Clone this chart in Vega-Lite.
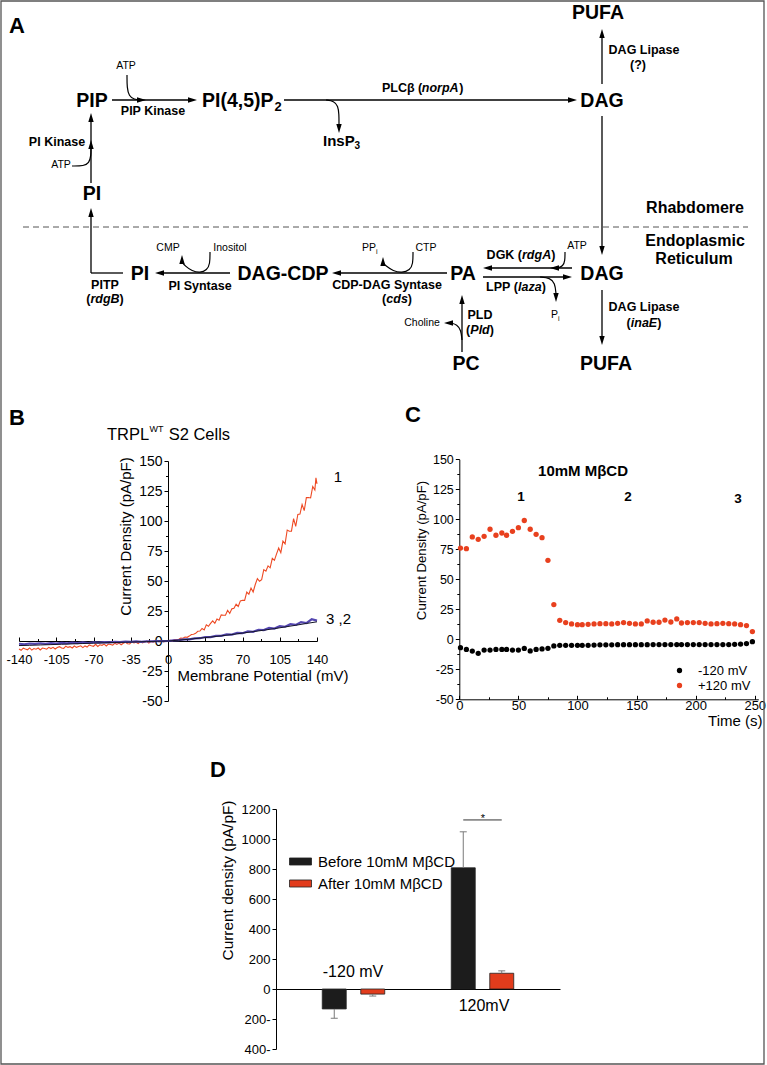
{
"$schema": "https://vega.github.io/schema/vega-lite/v6.json",
"width": 767, "height": 1065, "autosize": {"type": "none"}, "padding": 0,
"background": "white",
"config": {
 "view": {"stroke": null},
 "font": "Liberation Sans",
 "text": {"font": "Liberation Sans", "color": "black"},
 "axis": {"grid": false, "domainColor": "black", "tickColor": "black", "labelColor": "black", "titleColor": "black", "labelFont": "Liberation Sans", "titleFont": "Liberation Sans", "titleFontWeight": "normal", "labelFlush": false, "labelOverlap": false, "domainWidth": 1, "tickWidth": 1},
 "legend": {"labelFont": "Liberation Sans", "labelColor": "black", "padding": 0}
},
"datasets": {
 "frame": [{"x": 1, "y": 1, "x2": 764, "y2": 1064}],
 "ddash": [{"x": 23, "y": 227, "x2": 748, "y2": 227}],
 "dlines": [
  {"x": 112, "y": 100, "x2": 192, "y2": 100},
  {"x": 284, "y": 100, "x2": 572, "y2": 100},
  {"x": 602, "y": 84, "x2": 602, "y2": 34},
  {"x": 91, "y": 183, "x2": 91, "y2": 117},
  {"x": 91, "y": 273, "x2": 91, "y2": 212},
  {"x": 91, "y": 273, "x2": 123, "y2": 273},
  {"x": 230, "y": 273, "x2": 159, "y2": 273},
  {"x": 447, "y": 273, "x2": 336, "y2": 273},
  {"x": 572, "y": 268, "x2": 487, "y2": 268},
  {"x": 483, "y": 277, "x2": 567, "y2": 277},
  {"x": 602, "y": 116, "x2": 602, "y2": 250},
  {"x": 602, "y": 290, "x2": 602, "y2": 340},
  {"x": 462, "y": 352, "x2": 462, "y2": 299}
 ],
 "darrows": [
  {"x": 192.5, "y": 100, "dir": 90},
  {"x": 141.5, "y": 100, "dir": 90},
  {"x": 572.5, "y": 100, "dir": 90},
  {"x": 339, "y": 128.5, "dir": 180},
  {"x": 602, "y": 33.5, "dir": 0},
  {"x": 91, "y": 117.5, "dir": 0},
  {"x": 91, "y": 144.5, "dir": 0},
  {"x": 91, "y": 212.5, "dir": 0},
  {"x": 159.5, "y": 273, "dir": 270},
  {"x": 182, "y": 259.5, "dir": 0},
  {"x": 336.5, "y": 273, "dir": 270},
  {"x": 383, "y": 261.5, "dir": 0},
  {"x": 487.5, "y": 268, "dir": 270},
  {"x": 554.5, "y": 268, "dir": 270},
  {"x": 567.5, "y": 277, "dir": 90},
  {"x": 556, "y": 297.5, "dir": 180},
  {"x": 602, "y": 250.5, "dir": 180},
  {"x": 602, "y": 340.5, "dir": 180},
  {"x": 462, "y": 299.5, "dir": 0},
  {"x": 448.5, "y": 323, "dir": 270}
 ],
 "dcurves": [
  {"id": "c1", "o": 1, "x": 127, "y": 75}, {"id": "c1", "o": 2, "x": 127, "y": 88}, {"id": "c1", "o": 3, "x": 129, "y": 96}, {"id": "c1", "o": 4, "x": 134, "y": 99.5}, {"id": "c1", "o": 5, "x": 141, "y": 100},
  {"id": "c2", "o": 1, "x": 72, "y": 166}, {"id": "c2", "o": 2, "x": 84, "y": 166}, {"id": "c2", "o": 3, "x": 89, "y": 163}, {"id": "c2", "o": 4, "x": 91, "y": 156}, {"id": "c2", "o": 5, "x": 91, "y": 147},
  {"id": "c3", "o": 1, "x": 210, "y": 252}, {"id": "c3", "o": 2, "x": 210, "y": 264}, {"id": "c3", "o": 3, "x": 207, "y": 270}, {"id": "c3", "o": 4, "x": 200, "y": 273}, {"id": "c3", "o": 5, "x": 192, "y": 271}, {"id": "c3", "o": 6, "x": 185, "y": 266}, {"id": "c3", "o": 7, "x": 182, "y": 262},
  {"id": "c4", "o": 1, "x": 413, "y": 252}, {"id": "c4", "o": 2, "x": 413, "y": 264}, {"id": "c4", "o": 3, "x": 410, "y": 270}, {"id": "c4", "o": 4, "x": 402, "y": 273}, {"id": "c4", "o": 5, "x": 393, "y": 271}, {"id": "c4", "o": 6, "x": 386, "y": 266}, {"id": "c4", "o": 7, "x": 383, "y": 263},
  {"id": "c5", "o": 1, "x": 565, "y": 252}, {"id": "c5", "o": 2, "x": 565, "y": 261}, {"id": "c5", "o": 3, "x": 563, "y": 266}, {"id": "c5", "o": 4, "x": 558, "y": 268},
  {"id": "c6", "o": 1, "x": 540, "y": 277}, {"id": "c6", "o": 2, "x": 550, "y": 278}, {"id": "c6", "o": 3, "x": 555, "y": 283}, {"id": "c6", "o": 4, "x": 556, "y": 294},
  {"id": "c7", "o": 1, "x": 462, "y": 340}, {"id": "c7", "o": 2, "x": 461, "y": 330}, {"id": "c7", "o": 3, "x": 457, "y": 324.5}, {"id": "c7", "o": 4, "x": 451, "y": 323},
  {"id": "c8", "o": 1, "x": 326, "y": 100}, {"id": "c8", "o": 2, "x": 334, "y": 101}, {"id": "c8", "o": 3, "x": 338, "y": 106}, {"id": "c8", "o": 4, "x": 339, "y": 114}, {"id": "c8", "o": 5, "x": 339, "y": 125}
 ],
 "dtext": [
  {"x": 17, "y": 26, "t": "A", "k": "panel"},
  {"x": 17, "y": 418, "t": "B", "k": "panel"},
  {"x": 413, "y": 415, "t": "C", "k": "panel"},
  {"x": 218, "y": 770, "t": "D", "k": "panel"},
  {"x": 92, "y": 101, "t": "PIP", "k": "node"},
  {"x": 602, "y": 101, "t": "DAG", "k": "node"},
  {"x": 598, "y": 13, "t": "PUFA", "k": "node"},
  {"x": 92, "y": 194, "t": "PI", "k": "node"},
  {"x": 140, "y": 274, "t": "PI", "k": "node"},
  {"x": 283, "y": 274, "t": "DAG-CDP", "k": "node"},
  {"x": 463, "y": 274, "t": "PA", "k": "node"},
  {"x": 602, "y": 274, "t": "DAG", "k": "node"},
  {"x": 466, "y": 364, "t": "PC", "k": "node"},
  {"x": 606, "y": 364, "t": "PUFA", "k": "node"},
  {"x": 202, "y": 101, "t": "PI(4,5)P", "k": "nodeL"},
  {"x": 274.5, "y": 107, "t": "2", "k": "nsub"},
  {"x": 323, "y": 141, "t": "InsP", "k": "insp"},
  {"x": 354.5, "y": 146, "t": "3", "k": "isub"},
  {"x": 153, "y": 111, "t": "PIP Kinase", "k": "enz"},
  {"x": 57, "y": 142, "t": "PI Kinase", "k": "enz"},
  {"x": 105, "y": 284.5, "t": "PITP", "k": "enz"},
  {"x": 200, "y": 286, "t": "PI Syntase", "k": "enz"},
  {"x": 387, "y": 285, "t": "CDP-DAG Syntase", "k": "enz"},
  {"x": 644, "y": 49.5, "t": "DAG Lipase", "k": "enz"},
  {"x": 638, "y": 64.5, "t": "(?)", "k": "enz"},
  {"x": 644, "y": 306.5, "t": "DAG Lipase", "k": "enz"},
  {"x": 480, "y": 314.5, "t": "PLD", "k": "enz"},
  {"x": 382, "y": 88, "t": "PLCβ (", "k": "enzL"},
  {"x": 459.3, "y": 88, "t": ")", "k": "enzL"},
  {"x": 421.8, "y": 88, "t": "norpA", "k": "enziL"},
  {"x": 86.2, "y": 299, "t": "(", "k": "enzL"},
  {"x": 90.4, "y": 299, "t": "rdgB", "k": "enziL"},
  {"x": 119.6, "y": 299, "t": ")", "k": "enzL"},
  {"x": 382.1, "y": 299, "t": "(", "k": "enzL"},
  {"x": 386.3, "y": 299, "t": "cds", "k": "enziL"},
  {"x": 407.8, "y": 299, "t": ")", "k": "enzL"},
  {"x": 486.6, "y": 255, "t": "DGK (", "k": "enzL"},
  {"x": 522.0, "y": 255, "t": "rdgA", "k": "enziL"},
  {"x": 551.2, "y": 255, "t": ")", "k": "enzL"},
  {"x": 486.1, "y": 287, "t": "LPP (", "k": "enzL"},
  {"x": 518.1, "y": 287, "t": "laza", "k": "enziL"},
  {"x": 541.7, "y": 287, "t": ")", "k": "enzL"},
  {"x": 626.6, "y": 322.5, "t": "(", "k": "enzL"},
  {"x": 630.8, "y": 322.5, "t": "inaE", "k": "enziL"},
  {"x": 657.2, "y": 322.5, "t": ")", "k": "enzL"},
  {"x": 466.1, "y": 329.5, "t": "(", "k": "enzL"},
  {"x": 470.3, "y": 329.5, "t": "Pld", "k": "enziL"},
  {"x": 489.7, "y": 329.5, "t": ")", "k": "enzL"},
  {"x": 695, "y": 208, "t": "Rhabdomere", "k": "region"},
  {"x": 695, "y": 241, "t": "Endoplasmic", "k": "region"},
  {"x": 694, "y": 259, "t": "Reticulum", "k": "region"},
  {"x": 126, "y": 66, "t": "ATP", "k": "small"},
  {"x": 61, "y": 165, "t": "ATP", "k": "small"},
  {"x": 168, "y": 248, "t": "CMP", "k": "small"},
  {"x": 230, "y": 248, "t": "Inositol", "k": "small"},
  {"x": 426, "y": 248, "t": "CTP", "k": "small"},
  {"x": 577, "y": 246, "t": "ATP", "k": "small"},
  {"x": 422, "y": 323, "t": "Choline", "k": "small"},
  {"x": 362, "y": 248, "t": "PP", "k": "smallL"},
  {"x": 551, "y": 315, "t": "P", "k": "smallL"},
  {"x": 376, "y": 251.5, "t": "i", "k": "ssub"},
  {"x": 558, "y": 318.5, "t": "i", "k": "ssub"},
  {"x": 353, "y": 972, "t": "-120 mV", "k": "dlab"},
  {"x": 484, "y": 1006, "t": "120mV", "k": "dlab"},
  {"x": 483, "y": 819, "t": "*", "k": "star"}
 ],
 "iv": [
  {"mV": -140, "pA": -6.7, "trace": "1"}, {"mV": -138, "pA": -7.75, "trace": "1"}, {"mV": -136, "pA": -6.0, "trace": "1"}, {"mV": -134, "pA": -6.75, "trace": "1"}, {"mV": -132, "pA": -7.3, "trace": "1"}, {"mV": -130, "pA": -5.75, "trace": "1"}, {"mV": -128, "pA": -7.6, "trace": "1"}, {"mV": -126, "pA": -6.25, "trace": "1"}, {"mV": -124, "pA": -6.8, "trace": "1"}, {"mV": -122, "pA": -5.85, "trace": "1"},
  {"mV": -120, "pA": -7.5, "trace": "1"}, {"mV": -118, "pA": -5.9, "trace": "1"}, {"mV": -116, "pA": -6.3, "trace": "1"}, {"mV": -114, "pA": -6.8, "trace": "1"}, {"mV": -112, "pA": -5.3, "trace": "1"}, {"mV": -110, "pA": -6.3, "trace": "1"}, {"mV": -108, "pA": -5.3, "trace": "1"}, {"mV": -106, "pA": -6.7, "trace": "1"}, {"mV": -104, "pA": -5.5, "trace": "1"}, {"mV": -102, "pA": -4.7, "trace": "1"},
  {"mV": -100, "pA": -5.9, "trace": "1"}, {"mV": -98, "pA": -6.1, "trace": "1"}, {"mV": -96, "pA": -4.3, "trace": "1"}, {"mV": -94, "pA": -5.3, "trace": "1"}, {"mV": -92, "pA": -4.7, "trace": "1"}, {"mV": -90, "pA": -5.8, "trace": "1"}, {"mV": -88, "pA": -4.2, "trace": "1"}, {"mV": -86, "pA": -5.3, "trace": "1"}, {"mV": -84, "pA": -4.6, "trace": "1"}, {"mV": -82, "pA": -4.0, "trace": "1"},
  {"mV": -80, "pA": -5.5, "trace": "1"}, {"mV": -78, "pA": -4.08, "trace": "1"}, {"mV": -76, "pA": -5.06, "trace": "1"}, {"mV": -74, "pA": -3.24, "trace": "1"}, {"mV": -72, "pA": -3.92, "trace": "1"}, {"mV": -70, "pA": -4.4, "trace": "1"}, {"mV": -68, "pA": -2.78, "trace": "1"}, {"mV": -66, "pA": -4.56, "trace": "1"}, {"mV": -64, "pA": -3.14, "trace": "1"}, {"mV": -62, "pA": -3.62, "trace": "1"},
  {"mV": -60, "pA": -2.6, "trace": "1"}, {"mV": -58, "pA": -4.17, "trace": "1"}, {"mV": -56, "pA": -2.54, "trace": "1"}, {"mV": -54, "pA": -2.91, "trace": "1"}, {"mV": -52, "pA": -3.38, "trace": "1"}, {"mV": -50, "pA": -1.85, "trace": "1"}, {"mV": -48, "pA": -2.82, "trace": "1"}, {"mV": -46, "pA": -1.79, "trace": "1"}, {"mV": -44, "pA": -3.16, "trace": "1"}, {"mV": -42, "pA": -1.93, "trace": "1"},
  {"mV": -40, "pA": -1.1, "trace": "1"}, {"mV": -38, "pA": -2.28, "trace": "1"}, {"mV": -36, "pA": -2.46, "trace": "1"}, {"mV": -34, "pA": -0.64, "trace": "1"}, {"mV": -32, "pA": -1.62, "trace": "1"}, {"mV": -30, "pA": -1.0, "trace": "1"}, {"mV": -28, "pA": -2.08, "trace": "1"}, {"mV": -26, "pA": -0.46, "trace": "1"}, {"mV": -24, "pA": -1.54, "trace": "1"}, {"mV": -22, "pA": -0.82, "trace": "1"},
  {"mV": -20, "pA": -0.2, "trace": "1"}, {"mV": -18, "pA": -1.72, "trace": "1"}, {"mV": -16, "pA": -0.46, "trace": "1"}, {"mV": -14, "pA": -1.04, "trace": "1"}, {"mV": -12, "pA": 0.06, "trace": "1"}, {"mV": -10, "pA": -0.34, "trace": "1"}, {"mV": -8, "pA": -0.62, "trace": "1"}, {"mV": -6, "pA": 0.36, "trace": "1"}, {"mV": -4, "pA": -0.7, "trace": "1"}, {"mV": -2, "pA": 0.16, "trace": "1"},
  {"mV": 0, "pA": -0.1, "trace": "1"}, {"mV": 2, "pA": 0.65, "trace": "1"}, {"mV": 4, "pA": 0.1, "trace": "1"}, {"mV": 6, "pA": 1.15, "trace": "1"}, {"mV": 8, "pA": 1.2, "trace": "1"}, {"mV": 10, "pA": 1.2, "trace": "1"}, {"mV": 12, "pA": 2.4, "trace": "1"}, {"mV": 14, "pA": 2.35, "trace": "1"}, {"mV": 16, "pA": 3.3, "trace": "1"}, {"mV": 18, "pA": 3.05, "trace": "1"},
  {"mV": 20, "pA": 4.1, "trace": "1"}, {"mV": 22, "pA": 5.35, "trace": "1"}, {"mV": 24, "pA": 5.6, "trace": "1"}, {"mV": 26, "pA": 6.35, "trace": "1"}, {"mV": 28, "pA": 8.1, "trace": "1"}, {"mV": 30, "pA": 8.3, "trace": "1"}, {"mV": 32, "pA": 10.5, "trace": "1"}, {"mV": 34, "pA": 9.3, "trace": "1"}, {"mV": 36, "pA": 13.5, "trace": "1"}, {"mV": 38, "pA": 12.3, "trace": "1"},
  {"mV": 40, "pA": 14.7, "trace": "1"}, {"mV": 42, "pA": 16.8, "trace": "1"}, {"mV": 44, "pA": 14.7, "trace": "1"}, {"mV": 46, "pA": 18.4, "trace": "1"}, {"mV": 48, "pA": 17.3, "trace": "1"}, {"mV": 50, "pA": 21.8, "trace": "1"}, {"mV": 52, "pA": 21.4, "trace": "1"}, {"mV": 54, "pA": 21.4, "trace": "1"}, {"mV": 56, "pA": 25.6, "trace": "1"}, {"mV": 58, "pA": 23.0, "trace": "1"},
  {"mV": 60, "pA": 26.8, "trace": "1"}, {"mV": 62, "pA": 27.2, "trace": "1"}, {"mV": 64, "pA": 30.6, "trace": "1"}, {"mV": 66, "pA": 28.8, "trace": "1"}, {"mV": 68, "pA": 33.4, "trace": "1"}, {"mV": 70, "pA": 34.0, "trace": "1"}, {"mV": 72, "pA": 33.9, "trace": "1"}, {"mV": 74, "pA": 40.8, "trace": "1"}, {"mV": 76, "pA": 39.0, "trace": "1"}, {"mV": 78, "pA": 44.1, "trace": "1"},
  {"mV": 80, "pA": 40.85, "trace": "1"}, {"mV": 82, "pA": 47.1, "trace": "1"}, {"mV": 84, "pA": 51.95, "trace": "1"}, {"mV": 86, "pA": 49.8, "trace": "1"}, {"mV": 88, "pA": 51.15, "trace": "1"}, {"mV": 90, "pA": 59.5, "trace": "1"}, {"mV": 92, "pA": 58.25, "trace": "1"}, {"mV": 94, "pA": 62.6, "trace": "1"}, {"mV": 96, "pA": 61.0, "trace": "1"}, {"mV": 98, "pA": 68.85, "trace": "1"},
  {"mV": 100, "pA": 67.25, "trace": "1"}, {"mV": 102, "pA": 72.55, "trace": "1"}, {"mV": 104, "pA": 77.5, "trace": "1"}, {"mV": 106, "pA": 73.6, "trace": "1"}, {"mV": 108, "pA": 83.3, "trace": "1"}, {"mV": 110, "pA": 81.0, "trace": "1"}, {"mV": 112, "pA": 92.5, "trace": "1"}, {"mV": 114, "pA": 91.5, "trace": "1"}, {"mV": 116, "pA": 91.5, "trace": "1"}, {"mV": 118, "pA": 102.0, "trace": "1"},
  {"mV": 120, "pA": 95.5, "trace": "1"}, {"mV": 122, "pA": 105.4, "trace": "1"}, {"mV": 124, "pA": 105.8, "trace": "1"}, {"mV": 126, "pA": 113.7, "trace": "1"}, {"mV": 128, "pA": 108.6, "trace": "1"}, {"mV": 130, "pA": 119.5, "trace": "1"}, {"mV": 132, "pA": 119.6, "trace": "1"}, {"mV": 134, "pA": 119.2, "trace": "1"}, {"mV": 136, "pA": 128.8, "trace": "1"}, {"mV": 138, "pA": 125.9, "trace": "1"}, {"mV": 139, "pA": 136, "trace": "1"}, {"mV": 140, "pA": 131, "trace": "1"},
  {"mV": -140, "pA": -2.3, "trace": "2"}, {"mV": -135, "pA": -2.7, "trace": "2"}, {"mV": -130, "pA": -2.1, "trace": "2"}, {"mV": -125, "pA": -2.45, "trace": "2"}, {"mV": -120, "pA": -1.9, "trace": "2"}, {"mV": -115, "pA": -2.4, "trace": "2"}, {"mV": -110, "pA": -1.8, "trace": "2"}, {"mV": -105, "pA": -2.1, "trace": "2"}, {"mV": -100, "pA": -1.5, "trace": "2"}, {"mV": -95, "pA": -2.0, "trace": "2"},
  {"mV": -90, "pA": -1.4, "trace": "2"}, {"mV": -85, "pA": -1.7, "trace": "2"}, {"mV": -80, "pA": -1.2, "trace": "2"}, {"mV": -75, "pA": -1.65, "trace": "2"}, {"mV": -70, "pA": -1.05, "trace": "2"}, {"mV": -65, "pA": -1.4, "trace": "2"}, {"mV": -60, "pA": -0.9, "trace": "2"}, {"mV": -55, "pA": -1.2, "trace": "2"}, {"mV": -50, "pA": -0.7, "trace": "2"}, {"mV": -45, "pA": -1.0, "trace": "2"},
  {"mV": -40, "pA": -0.5, "trace": "2"}, {"mV": -35, "pA": -0.8, "trace": "2"}, {"mV": -30, "pA": -0.35, "trace": "2"}, {"mV": -25, "pA": -0.65, "trace": "2"}, {"mV": -20, "pA": -0.25, "trace": "2"}, {"mV": -15, "pA": -0.37, "trace": "2"}, {"mV": -10, "pA": -0.08, "trace": "2"}, {"mV": -5, "pA": -0.09, "trace": "2"}, {"mV": 0, "pA": 0, "trace": "2"}, {"mV": 5, "pA": 0.47, "trace": "2"},
  {"mV": 10, "pA": 0.66, "trace": "2"}, {"mV": 15, "pA": 1.37, "trace": "2"}, {"mV": 20, "pA": 1.4, "trace": "2"}, {"mV": 25, "pA": 2.25, "trace": "2"}, {"mV": 30, "pA": 2.32, "trace": "2"}, {"mV": 35, "pA": 3.3, "trace": "2"}, {"mV": 40, "pA": 3.2, "trace": "2"}, {"mV": 45, "pA": 4.32, "trace": "2"}, {"mV": 50, "pA": 4.27, "trace": "2"}, {"mV": 55, "pA": 5.53, "trace": "2"},
  {"mV": 60, "pA": 5.3, "trace": "2"}, {"mV": 65, "pA": 6.7, "trace": "2"}, {"mV": 70, "pA": 6.5, "trace": "2"}, {"mV": 75, "pA": 8.05, "trace": "2"}, {"mV": 80, "pA": 7.7, "trace": "2"}, {"mV": 85, "pA": 9.37, "trace": "2"}, {"mV": 90, "pA": 9.06, "trace": "2"}, {"mV": 95, "pA": 10.87, "trace": "2"}, {"mV": 100, "pA": 10.4, "trace": "2"}, {"mV": 105, "pA": 12.35, "trace": "2"},
  {"mV": 110, "pA": 11.9, "trace": "2"}, {"mV": 115, "pA": 14.0, "trace": "2"}, {"mV": 120, "pA": 13.4, "trace": "2"}, {"mV": 125, "pA": 15.72, "trace": "2"}, {"mV": 130, "pA": 14.96, "trace": "2"}, {"mV": 135, "pA": 18.1, "trace": "2"}, {"mV": 140, "pA": 17.0, "trace": "2"},
  {"mV": -140, "pA": -3.8, "trace": "3"}, {"mV": -130, "pA": -3.6, "trace": "3"}, {"mV": -120, "pA": -3.3, "trace": "3"}, {"mV": -110, "pA": -3.0, "trace": "3"}, {"mV": -100, "pA": -2.7, "trace": "3"}, {"mV": -90, "pA": -2.4, "trace": "3"}, {"mV": -80, "pA": -2.1, "trace": "3"}, {"mV": -70, "pA": -1.8, "trace": "3"}, {"mV": -60, "pA": -1.5, "trace": "3"}, {"mV": -50, "pA": -1.25, "trace": "3"},
  {"mV": -40, "pA": -1.0, "trace": "3"}, {"mV": -30, "pA": -0.75, "trace": "3"}, {"mV": -20, "pA": -0.5, "trace": "3"}, {"mV": -10, "pA": -0.25, "trace": "3"}, {"mV": 0, "pA": 0, "trace": "3"}, {"mV": 10, "pA": 0.7, "trace": "3"}, {"mV": 20, "pA": 1.5, "trace": "3"}, {"mV": 30, "pA": 2.4, "trace": "3"}, {"mV": 40, "pA": 3.3, "trace": "3"}, {"mV": 50, "pA": 4.3, "trace": "3"},
  {"mV": 60, "pA": 5.4, "trace": "3"}, {"mV": 70, "pA": 6.6, "trace": "3"}, {"mV": 80, "pA": 7.8, "trace": "3"}, {"mV": 90, "pA": 9.0, "trace": "3"}, {"mV": 100, "pA": 10.3, "trace": "3"}, {"mV": 110, "pA": 11.7, "trace": "3"}, {"mV": 120, "pA": 13.1, "trace": "3"}, {"mV": 130, "pA": 14.6, "trace": "3"}, {"mV": 140, "pA": 16.0, "trace": "3"}
 ],
 "btext": [
  {"mV": -57.3, "pA": 171.7, "t": "TRPL", "k": "title"},
  {"mV": -17.4, "pA": 176.7, "t": "WT", "k": "sup"},
  {"mV": 0.6, "pA": 171.7, "t": "S2 Cells", "k": "title"},
  {"mV": 159.7, "pA": 136.7, "t": "1", "k": "lab"},
  {"mV": 148.5, "pA": 18.3, "t": "3 ,2", "k": "labL"}
 ],
 "phases": [
  {"t0": 0, "t1": 60, "phase": "bath"},
  {"t0": 60, "t1": 150, "phase": "MbCD"},
  {"t0": 150, "t1": 253, "phase": "bath"}
 ],
 "bounds": [{"t": 60}, {"t": 150}],
 "ctime": [
  {"t": 1, "v": 76, "s": "+120 mV"}, {"t": 6, "v": 75.5, "s": "+120 mV"}, {"t": 11, "v": 85.3, "s": "+120 mV"}, {"t": 16, "v": 83.3, "s": "+120 mV"}, {"t": 21, "v": 85.8, "s": "+120 mV"}, {"t": 26, "v": 91.7, "s": "+120 mV"}, {"t": 31, "v": 86.7, "s": "+120 mV"}, {"t": 36, "v": 88.6, "s": "+120 mV"}, {"t": 40, "v": 86.7, "s": "+120 mV"}, {"t": 45, "v": 90, "s": "+120 mV"},
  {"t": 50, "v": 93, "s": "+120 mV"}, {"t": 55, "v": 99, "s": "+120 mV"}, {"t": 60, "v": 91.7, "s": "+120 mV"}, {"t": 65, "v": 87.5, "s": "+120 mV"}, {"t": 70, "v": 84.7, "s": "+120 mV"}, {"t": 75, "v": 65.8, "s": "+120 mV"}, {"t": 80, "v": 28.9, "s": "+120 mV"}, {"t": 85, "v": 15.8, "s": "+120 mV"}, {"t": 90, "v": 13.9, "s": "+120 mV"}, {"t": 95, "v": 12.8, "s": "+120 mV"},
  {"t": 100, "v": 12.2, "s": "+120 mV"}, {"t": 104, "v": 12.2, "s": "+120 mV"}, {"t": 109, "v": 12.5, "s": "+120 mV"}, {"t": 114, "v": 12.8, "s": "+120 mV"}, {"t": 119, "v": 13, "s": "+120 mV"}, {"t": 124, "v": 13, "s": "+120 mV"}, {"t": 129, "v": 12.8, "s": "+120 mV"}, {"t": 134, "v": 13.3, "s": "+120 mV"}, {"t": 139, "v": 13.9, "s": "+120 mV"}, {"t": 144, "v": 13.3, "s": "+120 mV"},
  {"t": 149, "v": 12.8, "s": "+120 mV"}, {"t": 154, "v": 12.8, "s": "+120 mV"}, {"t": 159, "v": 15.3, "s": "+120 mV"}, {"t": 164, "v": 14.2, "s": "+120 mV"}, {"t": 169, "v": 14.2, "s": "+120 mV"}, {"t": 174, "v": 16, "s": "+120 mV"}, {"t": 179, "v": 14.4, "s": "+120 mV"}, {"t": 184, "v": 17, "s": "+120 mV"}, {"t": 188, "v": 13.6, "s": "+120 mV"}, {"t": 193, "v": 13.9, "s": "+120 mV"},
  {"t": 198, "v": 13.9, "s": "+120 mV"}, {"t": 203, "v": 13.9, "s": "+120 mV"}, {"t": 208, "v": 13.3, "s": "+120 mV"}, {"t": 213, "v": 12.8, "s": "+120 mV"}, {"t": 218, "v": 13, "s": "+120 mV"}, {"t": 223, "v": 13.3, "s": "+120 mV"}, {"t": 228, "v": 13, "s": "+120 mV"}, {"t": 233, "v": 12.8, "s": "+120 mV"}, {"t": 238, "v": 12.2, "s": "+120 mV"}, {"t": 243, "v": 11.4, "s": "+120 mV"}, {"t": 248, "v": 6.4, "s": "+120 mV"},
  {"t": 1, "v": -7, "s": "-120 mV"}, {"t": 6, "v": -8.4, "s": "-120 mV"}, {"t": 11, "v": -9.8, "s": "-120 mV"}, {"t": 16, "v": -11.7, "s": "-120 mV"}, {"t": 21, "v": -9, "s": "-120 mV"}, {"t": 26, "v": -9, "s": "-120 mV"}, {"t": 31, "v": -8.4, "s": "-120 mV"}, {"t": 36, "v": -8.4, "s": "-120 mV"}, {"t": 40, "v": -8.4, "s": "-120 mV"}, {"t": 45, "v": -9, "s": "-120 mV"},
  {"t": 50, "v": -9, "s": "-120 mV"}, {"t": 55, "v": -7.6, "s": "-120 mV"}, {"t": 60, "v": -9.7, "s": "-120 mV"}, {"t": 65, "v": -8.4, "s": "-120 mV"}, {"t": 70, "v": -8, "s": "-120 mV"}, {"t": 75, "v": -7.5, "s": "-120 mV"}, {"t": 80, "v": -5.5, "s": "-120 mV"}, {"t": 85, "v": -5, "s": "-120 mV"}, {"t": 90, "v": -5, "s": "-120 mV"}, {"t": 95, "v": -5, "s": "-120 mV"},
  {"t": 100, "v": -5, "s": "-120 mV"}, {"t": 104, "v": -5, "s": "-120 mV"}, {"t": 109, "v": -5, "s": "-120 mV"}, {"t": 114, "v": -4.8, "s": "-120 mV"}, {"t": 119, "v": -4.6, "s": "-120 mV"}, {"t": 124, "v": -4.6, "s": "-120 mV"}, {"t": 129, "v": -4.6, "s": "-120 mV"}, {"t": 134, "v": -4.5, "s": "-120 mV"}, {"t": 139, "v": -4.5, "s": "-120 mV"}, {"t": 144, "v": -4.5, "s": "-120 mV"},
  {"t": 149, "v": -4.5, "s": "-120 mV"}, {"t": 154, "v": -4.5, "s": "-120 mV"}, {"t": 159, "v": -4.5, "s": "-120 mV"}, {"t": 164, "v": -4.4, "s": "-120 mV"}, {"t": 169, "v": -4.4, "s": "-120 mV"}, {"t": 174, "v": -4.4, "s": "-120 mV"}, {"t": 179, "v": -4.4, "s": "-120 mV"}, {"t": 184, "v": -4.4, "s": "-120 mV"}, {"t": 188, "v": -4.4, "s": "-120 mV"}, {"t": 193, "v": -4.4, "s": "-120 mV"},
  {"t": 198, "v": -4.4, "s": "-120 mV"}, {"t": 203, "v": -4.4, "s": "-120 mV"}, {"t": 208, "v": -4.4, "s": "-120 mV"}, {"t": 213, "v": -4.4, "s": "-120 mV"}, {"t": 218, "v": -4.4, "s": "-120 mV"}, {"t": 223, "v": -4.4, "s": "-120 mV"}, {"t": 228, "v": -4.4, "s": "-120 mV"}, {"t": 233, "v": -4.2, "s": "-120 mV"}, {"t": 238, "v": -4, "s": "-120 mV"}, {"t": 243, "v": -3.6, "s": "-120 mV"}, {"t": 248, "v": -2, "s": "-120 mV"}
 ],
 "ctext": [
  {"t": 104.7, "v": 140.3, "txt": "10mM MβCD", "k": "head"},
  {"t": 52.2, "v": 118.6, "txt": "1", "k": "num"},
  {"t": 142.7, "v": 118.6, "txt": "2", "k": "num"},
  {"t": 235.9, "v": 116.9, "txt": "3", "k": "num"}
 ],
 "dbars": [
  {"voltage": "-120 mV", "cond": "Before 10mM MβCD", "value": -133, "err": -195},
  {"voltage": "-120 mV", "cond": "After 10mM MβCD", "value": -34, "err": -47},
  {"voltage": "120mV", "cond": "Before 10mM MβCD", "value": 808, "err": 1048},
  {"voltage": "120mV", "cond": "After 10mM MβCD", "value": 105, "err": 121}
 ],
 "dsig": [
  {"voltage": "120mV", "cond": "Before 10mM MβCD", "v": 1127},
  {"voltage": "120mV", "cond": "After 10mM MβCD", "v": 1127}
 ]
},
"layer": [
 {
  "encoding": {
   "x": {"field": "x", "type": "quantitative", "scale": {"domain": [0, 767], "range": [0, 767], "nice": false, "zero": false}, "axis": null},
   "y": {"field": "y", "type": "quantitative", "scale": {"domain": [0, 1065], "range": [0, 1065], "nice": false, "zero": false}, "axis": null}
  },
  "layer": [
   {"data": {"name": "frame"}, "mark": {"type": "rect", "fillOpacity": 0, "stroke": "#555555", "strokeWidth": 1.3}, "encoding": {"x2": {"field": "x2"}, "y2": {"field": "y2"}}},
   {"data": {"name": "ddash"}, "mark": {"type": "rule", "color": "#555555", "strokeWidth": 1, "strokeDash": [6, 4]}, "encoding": {"x2": {"field": "x2"}, "y2": {"field": "y2"}}},
   {"data": {"name": "dlines"}, "mark": {"type": "rule", "color": "black", "strokeWidth": 1.3}, "encoding": {"x2": {"field": "x2"}, "y2": {"field": "y2"}}},
   {"data": {"name": "dcurves"}, "mark": {"type": "line", "color": "black", "strokeWidth": 1.2, "interpolate": "basis"}, "encoding": {"detail": {"field": "id", "type": "nominal"}, "order": {"field": "o", "type": "quantitative"}}},
   {"data": {"name": "darrows"}, "mark": {"type": "point", "shape": "M0,-1L0.6,1L-0.6,1Z", "filled": true, "size": 81, "color": "black", "opacity": 1}, "encoding": {"angle": {"field": "dir", "type": "quantitative", "scale": null}}},
   {"data": {"name": "dtext"}, "transform": [{"filter": "datum.k === 'panel'"}], "mark": {"type": "text", "fontSize": 22, "fontWeight": "bold"}, "encoding": {"text": {"field": "t"}}},
   {"data": {"name": "dtext"}, "transform": [{"filter": "datum.k === 'node'"}], "mark": {"type": "text", "fontSize": 19.5, "fontWeight": "bold"}, "encoding": {"text": {"field": "t"}}},
   {"data": {"name": "dtext"}, "transform": [{"filter": "datum.k === 'nodeL'"}], "mark": {"type": "text", "fontSize": 19.5, "fontWeight": "bold", "align": "left"}, "encoding": {"text": {"field": "t"}}},
   {"data": {"name": "dtext"}, "transform": [{"filter": "datum.k === 'nsub'"}], "mark": {"type": "text", "fontSize": 13, "fontWeight": "bold", "align": "left"}, "encoding": {"text": {"field": "t"}}},
   {"data": {"name": "dtext"}, "transform": [{"filter": "datum.k === 'insp'"}], "mark": {"type": "text", "fontSize": 15, "fontWeight": "bold", "align": "left"}, "encoding": {"text": {"field": "t"}}},
   {"data": {"name": "dtext"}, "transform": [{"filter": "datum.k === 'isub'"}], "mark": {"type": "text", "fontSize": 10, "fontWeight": "bold", "align": "left"}, "encoding": {"text": {"field": "t"}}},
   {"data": {"name": "dtext"}, "transform": [{"filter": "datum.k === 'enz'"}], "mark": {"type": "text", "fontSize": 12.5, "fontWeight": "bold"}, "encoding": {"text": {"field": "t"}}},
   {"data": {"name": "dtext"}, "transform": [{"filter": "datum.k === 'enzL'"}], "mark": {"type": "text", "fontSize": 12.5, "fontWeight": "bold", "align": "left"}, "encoding": {"text": {"field": "t"}}},
   {"data": {"name": "dtext"}, "transform": [{"filter": "datum.k === 'enziL'"}], "mark": {"type": "text", "fontSize": 12.5, "fontWeight": "bold", "fontStyle": "italic", "align": "left"}, "encoding": {"text": {"field": "t"}}},
   {"data": {"name": "dtext"}, "transform": [{"filter": "datum.k === 'region'"}], "mark": {"type": "text", "fontSize": 16, "fontWeight": "bold"}, "encoding": {"text": {"field": "t"}}},
   {"data": {"name": "dtext"}, "transform": [{"filter": "datum.k === 'small'"}], "mark": {"type": "text", "fontSize": 10.5}, "encoding": {"text": {"field": "t"}}},
   {"data": {"name": "dtext"}, "transform": [{"filter": "datum.k === 'smallL'"}], "mark": {"type": "text", "fontSize": 10.5, "align": "left"}, "encoding": {"text": {"field": "t"}}},
   {"data": {"name": "dtext"}, "transform": [{"filter": "datum.k === 'ssub'"}], "mark": {"type": "text", "fontSize": 7, "align": "left"}, "encoding": {"text": {"field": "t"}}},
   {"data": {"name": "dtext"}, "transform": [{"filter": "datum.k === 'dlab'"}], "mark": {"type": "text", "fontSize": 16}, "encoding": {"text": {"field": "t"}}},
   {"data": {"name": "dtext"}, "transform": [{"filter": "datum.k === 'star'"}], "mark": {"type": "text", "fontSize": 11}, "encoding": {"text": {"field": "t"}}}
  ]
 },
 {
  "encoding": {
   "x": {"field": "mV", "type": "quantitative", "scale": {"domain": [-140, 140], "range": [19, 317], "nice": false, "zero": false},
    "axis": {"orient": "bottom", "offset": -424, "values": [-140, -105, -70, -35, 0, 35, 70, 105, 140], "labelExpr": "datum.value < 0 ? '-' + format(-datum.value, 'd') : format(datum.value, 'd')", "labelFontSize": 13, "tickSize": -4, "labelPadding": 16, "title": "Membrane Potential (mV)", "titleFontSize": 15, "titleX": 177, "titleY": 27, "titleAlign": "left", "titleBaseline": "top"}},
   "y": {"field": "pA", "type": "quantitative", "scale": {"domain": [-50, 150], "range": [701, 461], "nice": false, "zero": false},
    "axis": {"orient": "left", "offset": -168, "values": [-50, -25, 0, 25, 50, 75, 100, 125, 150], "labelExpr": "datum.value < 0 ? '-' + format(-datum.value, 'd') : format(datum.value, 'd')", "labelFontSize": 14, "tickSize": 4, "labelPadding": 2, "title": "Current Density (pA/pF)", "titleFontSize": 15, "titleY": 536, "titlePadding": 5}}
  },
  "layer": [
   {"data": {"name": "iv"}, "transform": [{"filter": "datum.trace === '1'"}], "mark": {"type": "line", "strokeWidth": 1.1, "color": "#ee4a24"}},
   {"data": {"name": "iv"}, "transform": [{"filter": "datum.trace === '2'"}], "mark": {"type": "line", "strokeWidth": 2.2, "color": "#5446b0"}},
   {"data": {"name": "iv"}, "transform": [{"filter": "datum.trace === '3'"}], "mark": {"type": "line", "strokeWidth": 1, "color": "#141428"}},
   {"data": {"name": "btext"}, "transform": [{"filter": "datum.k === 'title'"}], "mark": {"type": "text", "fontSize": 16.5, "align": "left"}, "encoding": {"text": {"field": "t"}}},
   {"data": {"name": "btext"}, "transform": [{"filter": "datum.k === 'sup'"}], "mark": {"type": "text", "fontSize": 9, "align": "left"}, "encoding": {"text": {"field": "t"}}},
   {"data": {"name": "btext"}, "transform": [{"filter": "datum.k === 'lab'"}], "mark": {"type": "text", "fontSize": 15}, "encoding": {"text": {"field": "t"}}},
   {"data": {"name": "btext"}, "transform": [{"filter": "datum.k === 'labL'"}], "mark": {"type": "text", "fontSize": 15, "align": "left"}, "encoding": {"text": {"field": "t"}}}
  ]
 },
 {
  "data": {"values": [{}]},
  "mark": {"type": "point", "opacity": 0},
  "encoding": {
   "x": {"datum": 0, "type": "quantitative", "scale": {"domain": [-140, 140], "range": [19, 317], "nice": false, "zero": false},
    "axis": {"orient": "bottom", "offset": -424, "values": [-122.5, -87.5, -52.5, -17.5, 17.5, 52.5, 87.5, 122.5], "labels": false, "domain": false, "tickSize": -2.5, "title": null}},
   "y": {"datum": 0, "type": "quantitative", "scale": {"domain": [-50, 150], "range": [701, 461], "nice": false, "zero": false},
    "axis": {"orient": "left", "offset": -168, "values": [-37.5, -12.5, 12.5, 37.5, 62.5, 87.5, 112.5, 137.5], "labels": false, "domain": false, "tickSize": 2.5, "title": null}}
  }
 },
 {
  "encoding": {
   "x": {"field": "t", "type": "quantitative", "scale": {"domain": [0, 253], "range": [459.3, 758.3], "nice": false, "zero": false},
    "axis": {"orient": "bottom", "offset": -365.7, "values": [0, 50, 100, 150, 200, 250], "labelFontSize": 13, "tickSize": -4, "labelPadding": 4, "title": "Time (s)", "titleFontSize": 15, "titleX": 762, "titleY": 14, "titleAlign": "right", "titleBaseline": "top"}},
   "y": {"field": "v", "type": "quantitative", "scale": {"domain": [-50, 150], "range": [699.3, 459.3], "nice": false, "zero": false},
    "axis": {"orient": "left", "offset": -459.3, "values": [-50, -25, 0, 25, 50, 75, 100, 125, 150], "labelExpr": "datum.value < 0 ? '-' + format(-datum.value, 'd') : format(datum.value, 'd')", "labelFontSize": 12.5, "tickSize": 4, "labelPadding": 2, "title": "Current Density (pA/pF)", "titleFontSize": 13.2, "titleY": 550, "titlePadding": 4}}
  },
  "layer": [
   {"data": {"name": "phases"}, "transform": [{"filter": "datum.phase === 'bath'"}], "mark": {"type": "rect", "color": "#fcefd7"}, "encoding": {"x": {"field": "t0", "type": "quantitative"}, "x2": {"field": "t1"}, "y": {"datum": -50}, "y2": {"datum": 150}}},
   {"data": {"name": "phases"}, "transform": [{"filter": "datum.phase === 'MbCD'"}], "mark": {"type": "rect", "color": "#f5e2ef"}, "encoding": {"x": {"field": "t0", "type": "quantitative"}, "x2": {"field": "t1"}, "y": {"datum": -50}, "y2": {"datum": 150}}},
   {"data": {"name": "bounds"}, "mark": {"type": "rule", "color": "#777777", "strokeWidth": 1}, "encoding": {"y": {"datum": -50}, "y2": {"datum": 150}}},
   {"data": {"values": [{}]}, "mark": {"type": "rect", "fillOpacity": 0, "stroke": "#777777", "strokeWidth": 1}, "encoding": {"x": {"datum": 0}, "x2": {"datum": 253}, "y": {"datum": -50}, "y2": {"datum": 150}}},
   {"data": {"values": [{}]}, "mark": {"type": "rule", "color": "black", "strokeWidth": 0.8, "strokeDash": [4, 3]}, "encoding": {"x": {"datum": 0}, "x2": {"datum": 253}, "y": {"datum": 0}}},
   {"data": {"name": "ctime"}, "mark": {"type": "point", "filled": true, "size": 28, "opacity": 1, "shape": "circle"},
    "encoding": {"color": {"field": "s", "type": "nominal", "scale": {"domain": ["-120 mV", "+120 mV"], "range": ["#000000", "#e8401e"]},
     "legend": {"orient": "none", "legendX": 673, "legendY": 664, "title": null, "labelFontSize": 13, "symbolSize": 28, "symbolType": "circle", "rowPadding": 1, "labelOffset": 12}}}},
   {"data": {"name": "ctext"}, "transform": [{"filter": "datum.k === 'head'"}], "mark": {"type": "text", "fontSize": 15, "fontWeight": "bold"}, "encoding": {"text": {"field": "txt"}}},
   {"data": {"name": "ctext"}, "transform": [{"filter": "datum.k === 'num'"}], "mark": {"type": "text", "fontSize": 13.5, "fontWeight": "bold"}, "encoding": {"text": {"field": "txt"}}}
  ]
 },
 {
  "data": {"values": [{}]},
  "mark": {"type": "point", "opacity": 0},
  "encoding": {
   "x": {"datum": 0, "type": "quantitative", "scale": {"domain": [0, 253], "range": [459.3, 758.3], "nice": false, "zero": false},
    "axis": {"orient": "bottom", "offset": -365.7, "values": [25, 75, 125, 175, 225], "labels": false, "domain": false, "tickSize": -2.5, "title": null}},
   "y": {"datum": 0, "type": "quantitative", "scale": {"domain": [-50, 150], "range": [699.3, 459.3], "nice": false, "zero": false},
    "axis": {"orient": "left", "offset": -459.3, "values": [-37.5, -12.5, 12.5, 37.5, 62.5, 87.5, 112.5, 137.5], "labels": false, "domain": false, "tickSize": 2.5, "title": null}}
  }
 },
 {
  "encoding": {
   "x": {"field": "voltage", "type": "nominal", "scale": {"domain": ["-120 mV", "120mV"], "range": [276, 560], "paddingInner": 0, "paddingOuter": 0.1008},
    "axis": {"orient": "bottom", "offset": -76, "labels": false, "ticks": false, "title": null}},
   "y": {"field": "value", "type": "quantitative", "stack": null, "scale": {"domain": [-400, 1200], "range": [1049, 809], "nice": false, "zero": false},
    "axis": {"orient": "left", "offset": -276, "values": [-400, -200, 0, 200, 400, 600, 800, 1000, 1200], "labelExpr": "datum.value < 0 ? format(-datum.value, 'd') + '-' : format(datum.value, 'd')", "labelFontSize": 13, "tickSize": 4, "labelPadding": 2, "title": "Current density (pA/pF)", "titleFontSize": 15.4, "titleY": 880, "titlePadding": 6}}
  },
  "layer": [
   {"data": {"name": "dbars"}, "mark": {"type": "bar", "stroke": "#222222", "strokeWidth": 0.8},
    "encoding": {"xOffset": {"field": "cond", "type": "nominal", "scale": {"domain": ["Before 10mM MβCD", "After 10mM MβCD"], "paddingInner": 0.377, "paddingOuter": 0.864}},
     "color": {"field": "cond", "type": "nominal", "scale": {"domain": ["Before 10mM MβCD", "After 10mM MβCD"], "range": ["#1c1c1c", "#e23c1c"]},
      "legend": {"orient": "none", "legendX": 289, "legendY": 850, "title": null, "labelFontSize": 15, "symbolType": "M-1,-0.32H1V0.32H-1Z", "symbolSize": 484, "symbolStrokeColor": "#222222", "symbolStrokeWidth": 0.8, "rowPadding": 2, "labelOffset": 6}}}},
   {"data": {"name": "dbars"}, "mark": {"type": "rule", "color": "#7a7a7a", "strokeWidth": 1}, "encoding": {"xOffset": {"field": "cond", "type": "nominal"}, "y": {"field": "value", "type": "quantitative"}, "y2": {"field": "err"}}},
   {"data": {"name": "dbars"}, "mark": {"type": "tick", "color": "#7a7a7a", "thickness": 1, "size": 7, "opacity": 1}, "encoding": {"xOffset": {"field": "cond", "type": "nominal"}, "y": {"field": "err", "type": "quantitative"}}},
   {"data": {"name": "dsig"}, "mark": {"type": "line", "color": "#333333", "strokeWidth": 1}, "encoding": {"xOffset": {"field": "cond", "type": "nominal"}, "y": {"field": "v", "type": "quantitative"}}}
  ]
 }
],
"resolve": {"scale": {"x": "independent", "y": "independent", "color": "independent"}, "axis": {"x": "independent", "y": "independent"}, "legend": {"color": "independent"}}
}
